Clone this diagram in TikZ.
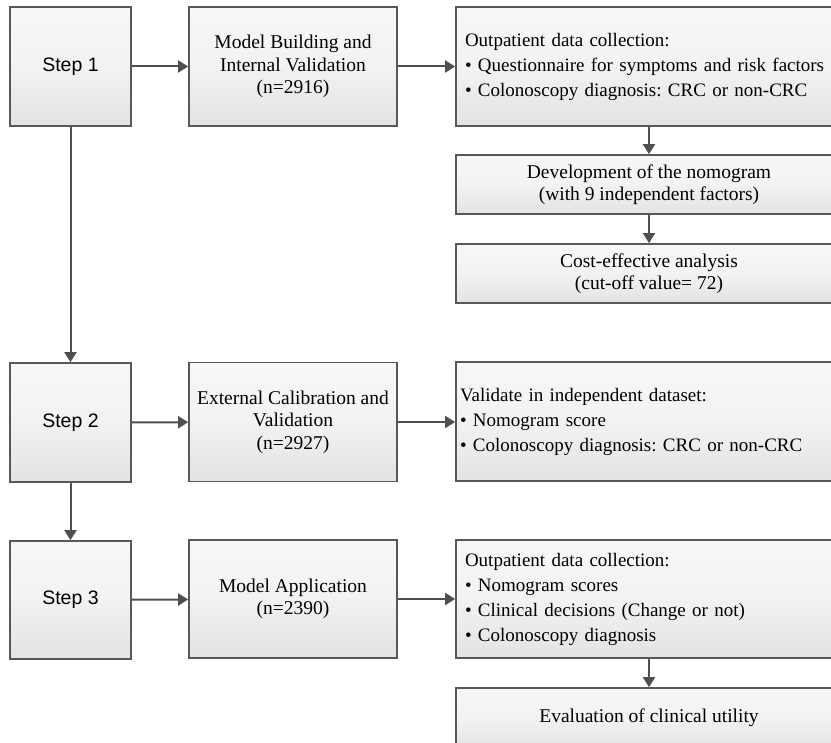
\documentclass[tikz,border=0pt]{standalone}
\usepackage{fontspec}
\setmainfont{Liberation Serif}
\newfontfamily\arialf{Liberation Sans}
\usetikzlibrary{arrows.meta}
\definecolor{boxline}{HTML}{585858}
\definecolor{arrowc}{HTML}{4F4F4F}
\frenchspacing
\hyphenpenalty=10000
\begin{document}
\begin{tikzpicture}[x=1pt,y=-1pt,
  box/.style={draw=boxline, line width=1.7pt, top color=black!3, bottom color=black!11, middle color=black!5,
    inner sep=0pt, align=center, font=\fontsize{19.5}{22.5}\selectfont},
  stepbox/.style={box, minimum width=121pt, minimum height=119pt, font=\arialf\fontsize{19.5}{23}\selectfont},
  midbox/.style={box, minimum width=208pt, minimum height=119pt},
  widebox/.style={box, minimum width=386pt},
  listbox/.style={box, minimum width=386pt, minimum height=119pt, text width=368pt, inner xsep=9pt, align=left,
    font=\fontsize{19}{25}\selectfont},
  arr/.style={draw=arrowc, line width=2pt, -{Triangle[length=10pt,width=12pt]}}]
\useasboundingbox (0,0) rectangle (831,743);
\clip (0,0) rectangle (831,743);

\node[stepbox] (s1) at (70.5,66.5) {Step 1};
\node[midbox] (m1) at (293,66.5) {Model Building and\\Internal Validation\\(n=2916)};
\node[listbox] (o1) at (649,66.5) {Outpatient data collection:\\\textbullet\ Questionnaire for symptoms and risk factors\\\textbullet\ Colonoscopy diagnosis: CRC or non-CRC};
\node[widebox, minimum height=59pt] (d1) at (649,184.5) {Development of the nomogram\\(with 9 independent factors)};
\node[widebox, minimum height=59pt] (c1) at (649,273.5) {Cost-effective analysis\\(cut-off value= 72)};

\node[stepbox] (s2) at (70.5,422.5) {Step 2};
\node[midbox] (m2) at (293,422) {External Calibration and\\Validation\\(n=2927)};
\node[listbox, inner xsep=4pt, text width=378pt] (o2) at (649,421.5) {Validate in independent dataset:\\\textbullet\ Nomogram score\\\textbullet\ Colonoscopy diagnosis: CRC or non-CRC};

\node[stepbox, minimum height=118pt] (s3) at (70.5,600) {Step 3};
\node[midbox, minimum height=118pt] (m3) at (293,599) {Model Application\\(n=2390)};
\node[listbox, minimum height=118pt] (o3) at (649,599) {Outpatient data collection:\\\textbullet\ Nomogram scores\\\textbullet\ Clinical decisions (Change or not)\\\textbullet\ Colonoscopy diagnosis};
\node[widebox, minimum height=60pt] (e3) at (649,718) {Evaluation of clinical utility};

\draw[arr] (s1) -- (m1);
\draw[arr] (m1) -- (o1);
\draw[arr] (o1) -- (d1);
\draw[arr] (d1) -- (c1);
\draw[arr] (s1) -- (s2);
\draw[arr] (s2) -- (m2);
\draw[arr] (m2) -- (m2 -| o2.west);
\draw[arr] (s2) -- (s3);
\draw[arr] (s3) -- (m3);
\draw[arr] (m3) -- (o3);
\draw[arr] (o3) -- (e3);
\end{tikzpicture}
\end{document}
